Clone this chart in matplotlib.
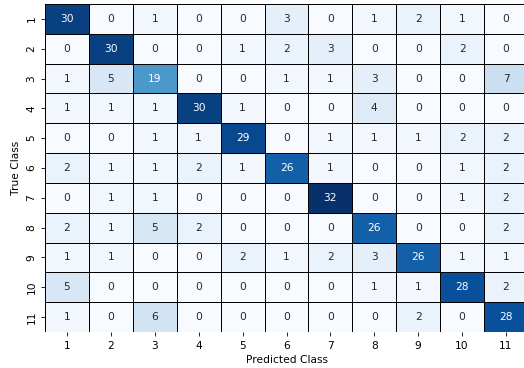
import numpy as np
import matplotlib
matplotlib.use("Agg")
import matplotlib.pyplot as plt
import seaborn as sns

class_labels = [str(i) for i in range(1, 12)]

row_1 = [30, 0, 1, 0, 0, 3, 0, 1, 2, 1, 0]
row_2 = [0, 30, 0, 0, 1, 2, 3, 0, 0, 2, 0]
row_3 = [1, 5, 19, 0, 0, 1, 1, 3, 0, 0, 7]
row_4 = [1, 1, 1, 30, 1, 0, 0, 4, 0, 0, 0]
row_5 = [0, 0, 1, 1, 29, 0, 1, 1, 1, 2, 2]
row_6 = [2, 1, 1, 2, 1, 26, 1, 0, 0, 1, 2]
row_7 = [0, 1, 1, 0, 0, 0, 32, 0, 0, 1, 2]
row_8 = [2, 1, 5, 2, 0, 0, 0, 26, 0, 0, 2]
row_9 = [1, 1, 0, 0, 2, 1, 2, 3, 26, 1, 1]
row_10 = [5, 0, 0, 0, 0, 0, 0, 1, 1, 28, 2]
row_11 = [1, 0, 6, 0, 0, 0, 0, 0, 2, 0, 28]

conf = np.array([row_1, row_2, row_3, row_4, row_5, row_6,
                 row_7, row_8, row_9, row_10, row_11])

fs = 7.7

fig = plt.figure(figsize=(5.24, 3.68), dpi=100)
ax = fig.add_axes([45 / 524, 36 / 368, 483 / 524, 328 / 368])

sns.heatmap(conf, annot=True, fmt="d", cmap="Blues", cbar=False,
            linewidths=0.5, linecolor="black",
            xticklabels=class_labels, yticklabels=class_labels, ax=ax,
            annot_kws={"fontsize": fs})

ax.set_xlabel("Predicted Class", fontsize=fs, labelpad=3.5)
ax.set_ylabel("True Class", fontsize=fs, labelpad=4)
ax.tick_params(labelsize=fs, length=2.7, width=0.6, pad=3.5)

fig.savefig("out.png", dpi=100)
